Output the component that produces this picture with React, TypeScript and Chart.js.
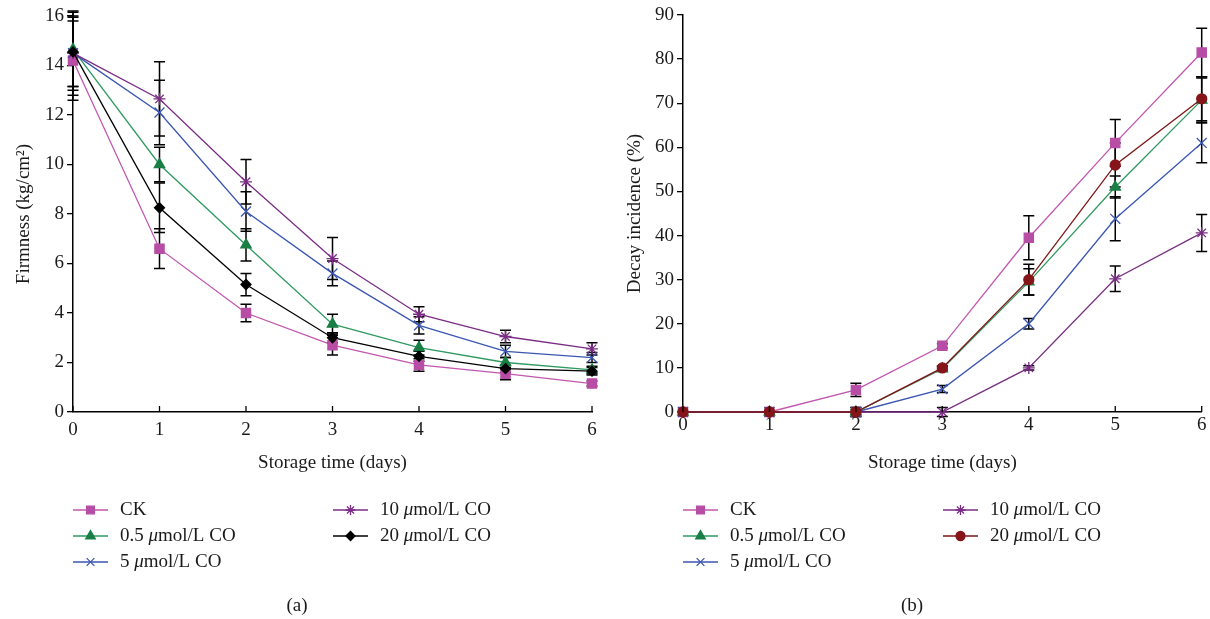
import React, { useEffect, useRef } from 'react';
import { Chart, registerables } from 'chart.js';
import { drawPoint } from 'chart.js/helpers';

Chart.register(...registerables);

// ---------- data ----------
const days = [0, 1, 2, 3, 4, 5, 6];
const seriesNames = ['CK', '0.5 μmol/L CO', '5 μmol/L CO', '10 μmol/L CO', '20 μmol/L CO'];

// (a) Firmness (kg/cm2)
const firmCK = [14.2, 6.6, 4.0, 2.7, 1.9, 1.55, 1.15];
const firm05 = [14.65, 10.0, 6.75, 3.55, 2.6, 2.0, 1.7];
const firm5 = [14.5, 12.1, 8.1, 5.6, 3.5, 2.45, 2.2];
const firm10 = [14.5, 12.65, 9.3, 6.2, 3.95, 3.05, 2.55];
const firm20 = [14.55, 8.25, 5.15, 3.0, 2.25, 1.75, 1.65];
const firmErrCK = [1.6, 0.8, 0.35, 0.4, 0.25, 0.25, 0.1];
const firmErr05 = [1.5, 0.7, 0.65, 0.4, 0.3, 0.2, 0.15];
const firmErr5 = [1.5, 1.3, 0.8, 0.5, 0.35, 0.25, 0.2];
const firmErr10 = [1.7, 1.5, 0.9, 0.85, 0.3, 0.25, 0.25];
const firmErr20 = [1.4, 1.0, 0.45, 0.2, 0.2, 0.15, 0.15];
const firmTicks = [0, 2, 4, 6, 8, 10, 12, 14, 16];

// (b) Decay incidence (%)
const decayCK = [0, 0, 5, 15, 39.5, 61, 81.5];
const decay05 = [0, 0, 0, 9.8, 29.5, 51, 70.7];
const decay5 = [0, 0, 0, 5.2, 20, 43.8, 61];
const decay10 = [0, 0, 0, 0, 10, 30.2, 40.6];
const decay20 = [0, 0, 0, 10, 30, 56, 71];
const decayErrCK = [0, 0, 1.5, 0.5, 5, 5.3, 5.5];
const decayErr05 = [0, 0, 1, 0.5, 3, 2.5, 5];
const decayErr5 = [0, 0, 0.5, 0.8, 1.2, 5, 4.5];
const decayErr10 = [0, 0, 0, 1, 0.5, 2.9, 4.2];
const decayErr20 = [0, 0, 1, 0.5, 3.5, 5, 5];
const decayTicks = [0, 10, 20, 30, 40, 50, 60, 70, 80, 90];

// ---------- styles ----------
const FONT = '"Liberation Serif", "Times New Roman", serif';
const TEXT = '#1a1a1a';
const FS = 19;

type Style = { line: string; point: string; shape: string; r: number; lr: number };
const stylesA: Style[] = [
  { line: '#C256AE', point: '#B84DA6', shape: 'rect', r: 6.5, lr: 5.5 },
  { line: '#2E9A60', point: '#1A7F44', shape: 'triangle', r: 6, lr: 5.5 },
  { line: '#3B56B2', point: '#3B56B2', shape: 'crossRot', r: 7, lr: 5.5 },
  { line: '#7A2C84', point: '#7A2C84', shape: 'star', r: 6, lr: 5 },
  { line: '#000000', point: '#000000', shape: 'rectRot', r: 5, lr: 4.5 },
];
const stylesB: Style[] = [
  stylesA[0], stylesA[1], stylesA[2], stylesA[3],
  { line: '#7E1616', point: '#86151A', shape: 'circle', r: 5, lr: 4.5 },
];

function makeConfig(
  values: number[][],
  errors: number[][],
  styles: Style[],
  yTitle: string,
  yMax: number,
  yTickVals: number[],
  padTop: number,
  padRight: number,
  xLabelPad: number,
  yTitlePad: number,
  caption: string,
  captionX: number
) {
  const datasets = values.map((vals, i) => ({
    label: seriesNames[i],
    data: days.map((d, j) => ({ x: d, y: vals[j] })),
    borderColor: styles[i].line,
    backgroundColor: styles[i].point,
    pointBackgroundColor: styles[i].point,
    pointBorderColor: styles[i].point,
    pointStyle: styles[i].shape,
    pointRadius: styles[i].r,
    pointBorderWidth: 1.3,
    borderWidth: 1.3,
    tension: 0,
    clip: false as any,
    order: values.length - i,
  }));

  const errorPlugin = {
    id: 'errBars',
    beforeDatasetsDraw(chart: any) {
      const ctx = chart.ctx;
      const xs = chart.scales.x;
      const ys = chart.scales.y;
      ctx.save();
      ctx.strokeStyle = '#000';
      ctx.lineWidth = 1.5;
      values.forEach((vals, i) => {
        vals.forEach((v, j) => {
          const e = errors[i][j];
          if (!e) return;
          const px = xs.getPixelForValue(days[j]);
          const t = ys.getPixelForValue(v + e);
          const b = ys.getPixelForValue(v - e);
          ctx.beginPath();
          ctx.moveTo(px, t);
          ctx.lineTo(px, b);
          ctx.moveTo(px - 5.5, t);
          ctx.lineTo(px + 5.5, t);
          ctx.moveTo(px - 5.5, b);
          ctx.lineTo(px + 5.5, b);
          ctx.stroke();
        });
      });
      ctx.restore();
    },
  };

  const decorPlugin = {
    id: 'decor',
    afterDraw(chart: any) {
      const ctx = chart.ctx;
      const xs = chart.scales.x;
      const ys = chart.scales.y;
      ctx.save();
      // inward x ticks
      ctx.strokeStyle = '#000';
      ctx.lineWidth = 1.3;
      xs.ticks.forEach((t: any) => {
        const px = xs.getPixelForValue(t.value);
        ctx.beginPath();
        ctx.moveTo(px, ys.bottom);
        ctx.lineTo(px, ys.bottom - 6);
        ctx.stroke();
      });
      // legend
      const colX = [73, 333];
      const rowY = [510, 536, 562];
      const fontN = `${FS}px ${FONT}`;
      const fontI = `italic ${FS}px ${FONT}`;
      seriesNames.forEach((name, k) => {
        const col = k < 3 ? 0 : 1;
        const row = k < 3 ? k : k - 3;
        const x0 = colX[col];
        const y = rowY[row];
        const st = styles[k];
        ctx.strokeStyle = st.line;
        ctx.lineWidth = 1.3;
        ctx.beginPath();
        ctx.moveTo(x0, y);
        ctx.lineTo(x0 + 35, y);
        ctx.stroke();
        ctx.fillStyle = st.point;
        ctx.strokeStyle = st.point;
        drawPoint(ctx, { pointStyle: st.shape as any, radius: st.lr, borderWidth: 1.2, rotation: 0 }, x0 + 17.5, y);
        ctx.fillStyle = TEXT;
        ctx.textBaseline = 'middle';
        ctx.textAlign = 'left';
        let tx = x0 + 47;
        const idx = name.indexOf('μ');
        const parts = idx >= 0 ? [[name.slice(0, idx), fontN], ['μ', fontI], [name.slice(idx + 1), fontN]] : [[name, fontN]];
        parts.forEach(([s, f]) => {
          ctx.font = f;
          ctx.fillText(s, tx, y);
          tx += ctx.measureText(s).width;
        });
      });
      // caption
      ctx.font = `${FS}px ${FONT}`;
      ctx.textAlign = 'center';
      ctx.fillStyle = TEXT;
      ctx.fillText(caption, captionX, 606);
      ctx.restore();
    },
  };

  return {
    type: 'line' as const,
    data: { datasets },
    plugins: [errorPlugin, decorPlugin],
    options: {
      animation: false as const,
      responsive: false,
      devicePixelRatio: 1,
      layout: { padding: { left: 0, right: padRight, top: padTop, bottom: 145 } },
      plugins: { legend: { display: false }, tooltip: { enabled: false } },
      scales: {
        x: {
          type: 'linear' as const,
          min: 0,
          max: 6,
          afterFit: (s: any) => { s.height = 62; },
          afterBuildTicks: (s: any) => { s.ticks = days.map((d) => ({ value: d })); },
          grid: { display: false, drawTicks: false },
          border: { display: true, color: '#000', width: 1.5 },
          ticks: { color: TEXT, font: { family: FONT, size: FS }, padding: xLabelPad, maxRotation: 0 },
          title: { display: true, text: 'Storage time (days)', color: TEXT, font: { family: FONT, size: FS }, padding: { top: 0, bottom: 0 } },
        },
        y: {
          type: 'linear' as const,
          min: 0,
          max: yMax,
          afterFit: (s: any) => { s.width = 73; },
          afterBuildTicks: (s: any) => { s.ticks = yTickVals.map((v) => ({ value: v })); },
          grid: { display: true, drawOnChartArea: false, drawTicks: true, tickLength: 6, color: '#000', lineWidth: 1.3 },
          border: { display: true, color: '#000', width: 1.5 },
          ticks: { color: TEXT, font: { family: FONT, size: FS }, padding: 3 },
          title: { display: true, text: yTitle, color: TEXT, font: { family: FONT, size: FS }, padding: { top: yTitlePad, bottom: 0 } },
        },
      },
    },
  };
}

export default function App() {
  const refA = useRef<HTMLCanvasElement | null>(null);
  const refB = useRef<HTMLCanvasElement | null>(null);

  useEffect(() => {
    const cfgA = makeConfig(
      [firmCK, firm05, firm5, firm10, firm20],
      [firmErrCK, firmErr05, firmErr5, firmErr10, firmErr20],
      stylesA, 'Firmness (kg/cm²)', 16, firmTicks, 16, 13, 6.5, 12.5, '(a)', 297
    );
    const cfgB = makeConfig(
      [decayCK, decay05, decay5, decay10, decay20],
      [decayErrCK, decayErr05, decayErr5, decayErr10, decayErr20],
      stylesB, 'Decay incidence (%)', 90, decayTicks, 15, 7, 1.5, 13.5, '(b)', 302
    );
    const a = new Chart(refA.current as HTMLCanvasElement, cfgA as any);
    const b = new Chart(refB.current as HTMLCanvasElement, cfgB as any);
    return () => { a.destroy(); b.destroy(); };
  }, []);

  return (
    <div style={{ position: 'absolute', left: 0, top: 0, width: 1210, height: 619, background: '#fff' }}>
      <canvas ref={refA} width={605} height={619} style={{ position: 'absolute', left: 0, top: 0, width: 605, height: 619 }} />
      <canvas ref={refB} width={600} height={619} style={{ position: 'absolute', left: 610, top: 0, width: 600, height: 619 }} />
    </div>
  );
}
